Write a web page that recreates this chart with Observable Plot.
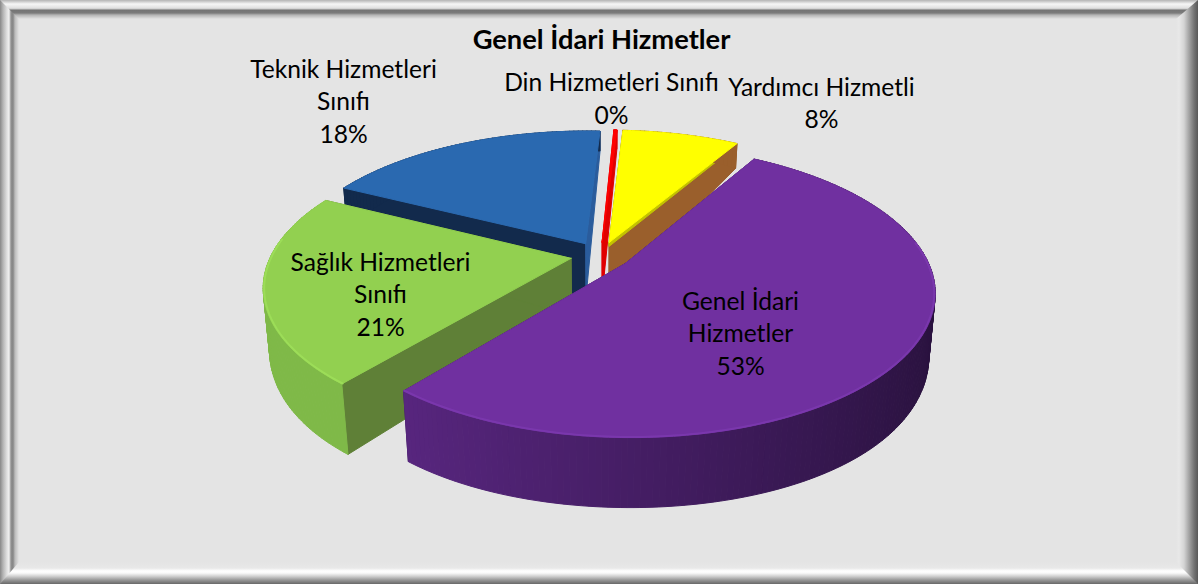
<!DOCTYPE html>
<html lang="tr"><head><meta charset="utf-8">
<script src="https://cdn.jsdelivr.net/npm/d3@7"></script>
<script src="https://cdn.jsdelivr.net/npm/@observablehq/plot@0.6"></script>
<style>
html,body{margin:0;padding:0;background:#e4e4e4;overflow:hidden}
#frame{position:relative;width:1198px;height:584px;background:#e4e4e4;overflow:hidden}
.s{position:absolute}
#chart{position:absolute;left:0;top:0}
</style></head><body><div id="frame">
<div class="s" style="left:0;top:0;width:1198px;height:19px;background:linear-gradient(to bottom,#b4b4b4 0,#d4d4d4 2px,#f6f6f6 4px,#e0e0e0 8px,#c8c8c8 9px,#747474 10px,#7c7c7c 13px,#b4b4b4 15px,#e4e4e4 19px)"></div>
<div class="s" style="left:0;top:562px;width:1198px;height:22px;background:linear-gradient(to bottom,#e4e4e4 0,#e8e8e8 6px,#ffffff 9px,#fafafa 11px,#d4d4d4 14px,#989898 18px,#686868 22px)"></div>
<div class="s" style="left:0;top:0;width:19px;height:584px;background:linear-gradient(to right,#888 0,#b4b4b4 3px,#e0e0e0 7px,#f0f0f0 9px,#909090 11px,#868686 13px,#bcbcbc 15px,#e4e4e4 19px);clip-path:polygon(0 0,100% 19px,100% 562px,0 100%)"></div>
<div class="s" style="left:1176px;top:0;width:22px;height:584px;background:linear-gradient(to right,#e4e4e4 0,#e8e8e8 3px,#d4d4d4 8px,#a4a4a4 13px,#747474 18px,#585858 22px);clip-path:polygon(0 19px,100% 0,100% 100%,0 562px)"></div>
<div id="chart"></div></div>
<script>
// Chart values
const categories = ["Yardımcı Hizmetli","Genel İdari Hizmetler","Sağlık Hizmetleri Sınıfı","Teknik Hizmetleri Sınıfı","Din Hizmetleri Sınıfı"];
const values = [7.5,52.5,21.49,18.31,0.2];
const percentLabels = ["8%","53%","21%","18%","0%"];
const titleText = "Genel İdari Hizmetler";
const labelLines = ["Yardımcı Hizmetli\n8%","Genel İdari\nHizmetler\n53%","Sağlık Hizmetleri\nSınıfı\n21%","Teknik Hizmetleri\nSınıfı\n18%","Din Hizmetleri Sınıfı\n0%"];

// Styling per slice
const tops = ["#ffff00","#7030a0","#92d050","#2a69b0","#ff0000"];
const bevels = ["#c4c400","#7d3ab0","#9fe05a","#2a69b0","#e00000"];
const rimA = ["#9a5f2c","#58267f","#7fb948","#122a4c","#e00000"];
const rimB = ["#9a5f2c","#2a123f","#7ab342","#122a4c","#e00000"];
const faceStart = ["#9a5f2c","#3a1a56","#5f8037","#122a4c","#e00000"];
const faceEnd = ["#9a5f2c","#3a1a56","#5f8037","#2a5c9c","#e00000"];

// Layout of the tilted disc, in pie radii: top face h=0, bottom face h=1
const startDeg = 3.5, explode = 0.1, R = 300;
function proj(u,v,h){
  const cy = (57*h)/R, F = (138+27*h)/R, a = 0.188-0.088*h, f = (300-5*h)/R, ax = 0.188-0.008*h;
  return {x:f*u/(1-ax*v), y:cy+F*v/(1-a*v)};
}
const total = d3.sum(values);
const slices = []; let acc = startDeg;
values.forEach((val,i)=>{ const a0=acc*Math.PI/180, a1=(acc+val/total*360)*Math.PI/180; acc+=val/total*360;
  const mid=(a0+a1)/2; slices.push({i,a0,a1,du:explode*Math.sin(mid),dv:-explode*Math.cos(mid)}); });
const polys=[]; const thin=[]; const rims=[]; let id=0;
const P=(s,t,h,r=1)=>proj(s.du+r*Math.sin(t),s.dv-r*Math.cos(t),h);
function poly(pts,color){ const z=id++; [...pts,pts[0]].forEach(p=>polys.push({x:p.x,y:p.y,z,color,w:color==="#ff0000"?0.2:1})); }
const BEV=0.07;
for(const k of [3,4,0,2,1]){
  const s=slices[k], n=Math.max(2,Math.ceil((s.a1-s.a0)*180/Math.PI));
  const ang=d3.range(n+1).map(j=>s.a0+(s.a1-s.a0)*j/n);
  [[s.a0,faceStart[k]],[s.a1,faceEnd[k]]].forEach(([t,col])=>{
    const c=proj(s.du,s.dv,0), c1=proj(s.du,s.dv,1), e=P(s,t,0), e1=P(s,t,1);
    poly([c,e,e1,c1],col);
    const cb=proj(s.du,s.dv,BEV), eb=P(s,t,BEV);
    if(k===0) poly([c,e,eb,cb],bevels[k]);
  });
  for(let j=0;j<n;j++){
    const t0=ang[j],t1=ang[j+1];
    const g=d3.interpolateRgb(rimB[k],rimA[k])(Math.max(0,Math.min(1,(0.95-Math.sin(t0))/1.6)));
    poly([P(s,t0,0),P(s,t1,0),P(s,t1,1),P(s,t0,1)],g);
  }
  poly([proj(s.du,s.dv,0),...ang.map(t=>P(s,t,0))],tops[k]);
  if(k===1||k===2){ ang.filter(t=>Math.cos(t)<0.15).forEach(t=>{const p=P(s,t,0,0.997);rims.push({...p,k})}); }
}
const labelRows = [
 {px:821,py:101,t:labelLines[0]},
 {px:740,py:331.5,t:labelLines[1]},
 {px:380,py:292.5,t:labelLines[2]},
 {px:343,py:99.5,t:labelLines[3]},
 {px:611,py:96.5,t:labelLines[4]}
];
const toX=p=>(p-600)/R, toY=p=>(p-255)/R;
const plot = Plot.plot({
  width:1198,height:584,margin:0,
  style:{background:"transparent"},
  x:{domain:[toX(0),toX(1198)],range:[0,1198],axis:null},
  y:{domain:[toY(0),toY(584)],range:[0,584],axis:null},
  marks:[
    Plot.line(polys,{x:"x",y:"y",z:"z",fill:"color",stroke:"color",strokeWidth:1,curve:"linear"}),
    Plot.line(rims,{x:"x",y:"y",z:"k",stroke:d=>bevels[d.k],strokeWidth:2,strokeOpacity:0.8}),
    Plot.text(labelRows,{x:d=>toX(d.px),y:d=>toY(d.py),text:"t",fontFamily:"Lato",fontSize:24.6,lineHeight:1.32,fill:"#000"}),
    Plot.text([titleText],{x:[toX(601)],y:[toY(40)],fontFamily:"Lato",fontSize:27.3,fontWeight:"bold",fill:"#000"})
  ]
});
document.getElementById("chart").append(plot);
</script></body></html>
